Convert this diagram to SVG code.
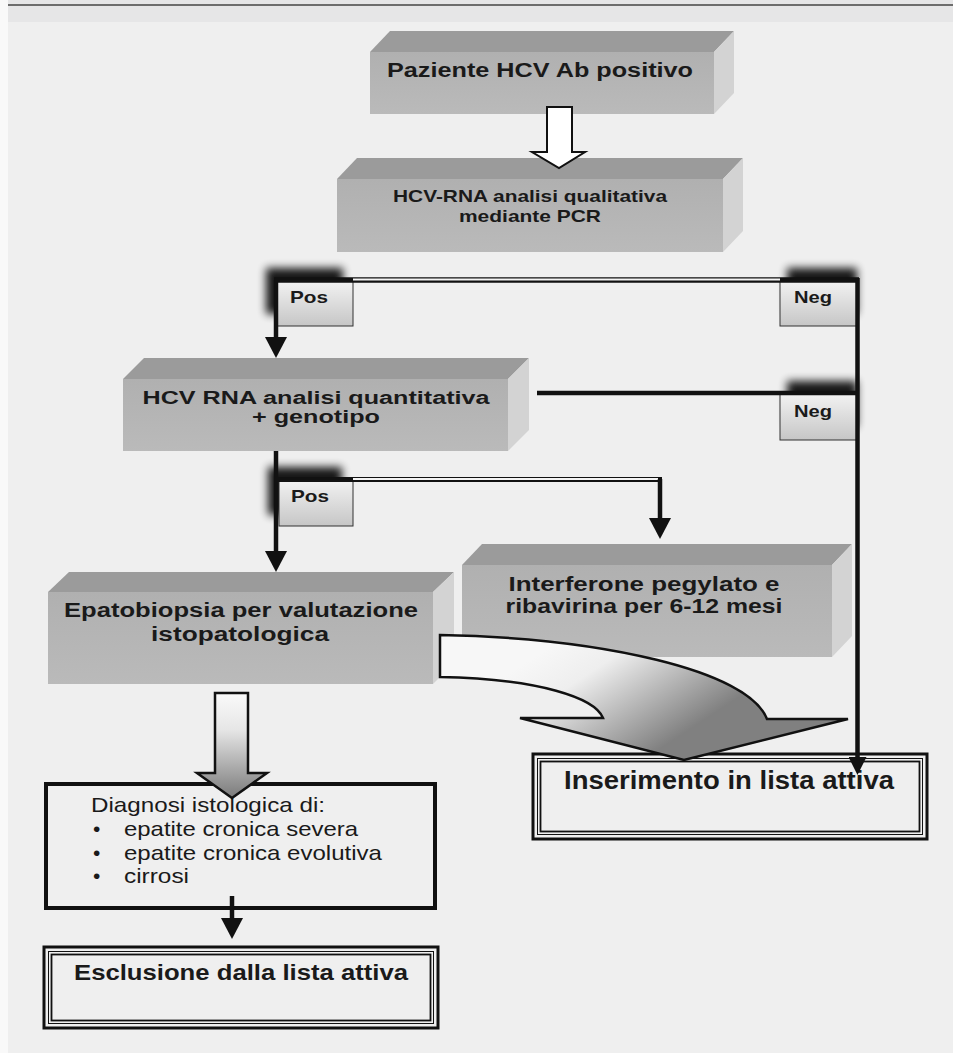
<svg xmlns="http://www.w3.org/2000/svg" width="953" height="1053" viewBox="0 0 953 1053">
<defs>
<style>
.t{font-family:"Liberation Sans",Arial,Helvetica,sans-serif;font-weight:bold;fill:#1a1a1a;text-anchor:middle}
.r{font-family:"Liberation Sans",Arial,Helvetica,sans-serif;fill:#1a1a1a}
.front{fill:url(#gFront)}
.top{fill:#9b9b9b}
.side{fill:#d3d3d3}
.lab{fill:url(#gLab);stroke:#333;stroke-width:1}
.shd{fill:#000;opacity:0.9;filter:url(#blur)}
.ln{stroke:#111;stroke-width:4.5;fill:none}
.k{fill:none;stroke:#111}
</style>
<linearGradient id="gFront" x1="0" y1="0" x2="0" y2="1">
<stop offset="0" stop-color="#b0b0b0"/>
<stop offset="1" stop-color="#bababa"/>
</linearGradient>
<linearGradient id="gLab" x1="0" y1="0" x2="0" y2="1">
<stop offset="0" stop-color="#f3f3f3"/>
<stop offset="1" stop-color="#c6c6c6"/>
</linearGradient>
<linearGradient id="gDown" x1="0" y1="0" x2="0" y2="1">
<stop offset="0" stop-color="#fafafa"/>
<stop offset="0.35" stop-color="#e6e6e6"/>
<stop offset="1" stop-color="#7a7a7a"/>
</linearGradient>
<linearGradient id="gCurve" gradientUnits="userSpaceOnUse" x1="560" y1="640" x2="640" y2="762">
<stop offset="0" stop-color="#f7f7f7"/>
<stop offset="0.3" stop-color="#eeeeee"/>
<stop offset="1" stop-color="#808080"/>
</linearGradient>
<filter id="blur" x="-50%" y="-50%" width="200%" height="200%">
<feGaussianBlur stdDeviation="4"/>
</filter>
<marker id="ah" viewBox="0 0 21 22" refX="0" refY="11" markerWidth="21" markerHeight="22" markerUnits="userSpaceOnUse" orient="auto">
<path d="M0,0 L21,11 L0,22 Z" fill="#111"/>
</marker>
<marker id="ahs" viewBox="0 0 18 18" refX="0" refY="9" markerWidth="18" markerHeight="18" markerUnits="userSpaceOnUse" orient="auto">
<path d="M0,0 L18,9 L0,18 Z" fill="#111"/>
</marker>
</defs>

<!-- page -->
<rect x="0" y="0" width="953" height="1053" fill="#f9f9f9"/>
<rect x="8" y="0" width="945" height="1053" fill="#efefef"/>
<rect x="8" y="0" width="945" height="22" fill="#e6e6e7"/>
<line x1="8" y1="5" x2="953" y2="5" stroke="#444" stroke-width="1.5"/>

<!-- nodes -->
<g id="n-paziente">
<polygon class="top" points="370,52 390,31 734,31 714,52"/>
<polygon class="side" points="714,52 734,31 734,93 714,114"/>
<rect class="front" x="370" y="52" width="344" height="62"/>
<text class="t" x="540" y="77" font-size="20" textLength="306" lengthAdjust="spacingAndGlyphs">Paziente HCV Ab positivo</text>
</g>

<g id="n-qualitativa">
<polygon class="top" points="337,179 357,158 743,158 723,179"/>
<polygon class="side" points="723,179 743,158 743,231 723,252"/>
<rect class="front" x="337" y="179" width="386" height="73"/>
<text class="t" x="530" y="202" font-size="17" textLength="274" lengthAdjust="spacingAndGlyphs">HCV-RNA analisi qualitativa</text>
<text class="t" x="530" y="222" font-size="17" textLength="142" lengthAdjust="spacingAndGlyphs">mediante PCR</text>
</g>

<g id="n-quantitativa">
<polygon class="top" points="123,379 144,358 529,358 508,379"/>
<polygon class="side" points="508,379 529,358 529,430 508,451"/>
<rect class="front" x="123" y="379" width="385" height="72"/>
<text class="t" x="316" y="404" font-size="18" textLength="347" lengthAdjust="spacingAndGlyphs">HCV RNA analisi quantitativa</text>
<text class="t" x="316" y="423" font-size="18" textLength="128" lengthAdjust="spacingAndGlyphs">+ genotipo</text>
</g>

<g id="n-interferone">
<polygon class="top" points="462,565 482,544 852,544 832,565"/>
<polygon class="side" points="832,565 852,544 852,636 832,657"/>
<rect class="front" x="462" y="565" width="370" height="92"/>
<text class="t" x="644" y="591" font-size="20" textLength="271" lengthAdjust="spacingAndGlyphs">Interferone pegylato e</text>
<text class="t" x="644" y="613" font-size="20" textLength="277" lengthAdjust="spacingAndGlyphs">ribavirina per 6-12 mesi</text>
</g>

<g id="n-epatobiopsia">
<polygon class="top" points="48,592 69,572 454,572 433,592"/>
<polygon class="side" points="433,592 454,572 454,663 433,684"/>
<rect class="front" x="48" y="592" width="385" height="92"/>
<text class="t" x="241" y="617" font-size="20" textLength="354" lengthAdjust="spacingAndGlyphs">Epatobiopsia per valutazione</text>
<text class="t" x="240" y="641" font-size="20" textLength="178" lengthAdjust="spacingAndGlyphs">istopatologica</text>
</g>

<g id="n-diagnosi">
<rect x="46" y="784" width="389" height="124" fill="none" stroke="#111" stroke-width="4"/>
<text class="r" x="91" y="812" font-size="21" textLength="234" lengthAdjust="spacingAndGlyphs">Diagnosi istologica di:</text>
<text class="r" x="93" y="836" font-size="21">•</text>
<text class="r" x="124" y="836" font-size="21" textLength="234" lengthAdjust="spacingAndGlyphs">epatite cronica severa</text>
<text class="r" x="93" y="860" font-size="21">•</text>
<text class="r" x="124" y="860" font-size="21" textLength="258" lengthAdjust="spacingAndGlyphs">epatite cronica evolutiva</text>
<text class="r" x="93" y="883" font-size="21">•</text>
<text class="r" x="124" y="883" font-size="21" textLength="65" lengthAdjust="spacingAndGlyphs">cirrosi</text>
</g>

<g id="n-esclusione">
<rect class="k" x="44" y="947" width="394" height="81" stroke-width="3"/>
<rect class="k" x="48.5" y="951.5" width="385" height="72" stroke-width="1"/>
<rect class="k" x="51.5" y="954.5" width="379" height="66" stroke-width="1.8"/>
<text class="t" x="241" y="980" font-size="22" textLength="334" lengthAdjust="spacingAndGlyphs">Esclusione dalla lista attiva</text>
</g>

<g id="n-inserimento">
<rect class="k" x="533" y="754" width="394" height="85" stroke-width="3"/>
<rect class="k" x="537.5" y="758.5" width="385" height="76" stroke-width="1"/>
<rect class="k" x="540.5" y="761.5" width="379" height="70" stroke-width="1.8"/>
<text class="t" x="729" y="789" font-size="25" textLength="330" lengthAdjust="spacingAndGlyphs">Inserimento in lista attiva</text>
</g>

<!-- branch labels -->
<g id="l-pos1">
<rect class="shd" x="266" y="268" width="77" height="46"/>
<rect class="lab" x="276" y="280" width="77" height="46"/>
<text class="t" x="309" y="303" font-size="17" textLength="38" lengthAdjust="spacingAndGlyphs">Pos</text>
</g>
<g id="l-neg1">
<rect class="shd" x="787" y="268" width="70" height="46"/>
<rect class="lab" x="780" y="280" width="77" height="46"/>
<text class="t" x="813" y="303" font-size="17" textLength="38" lengthAdjust="spacingAndGlyphs">Neg</text>
</g>
<g id="l-neg2">
<rect class="shd" x="787" y="381" width="70" height="46"/>
<rect class="lab" x="780" y="393" width="77" height="47"/>
<text class="t" x="813" y="417" font-size="17" textLength="38" lengthAdjust="spacingAndGlyphs">Neg</text>
</g>
<g id="l-pos2">
<rect class="shd" x="268" y="467" width="74" height="48"/>
<rect class="lab" x="279" y="479" width="74" height="47"/>
<text class="t" x="310" y="502" font-size="17" textLength="38" lengthAdjust="spacingAndGlyphs">Pos</text>
</g>

<!-- connectors -->
<g id="connectors">
<path d="M547,107 L572,107 L572,152 L585,152 L559,168 L532,152 L547,152 Z" fill="#fff" stroke="#111" stroke-width="2"/>
<line x1="274" y1="280" x2="859" y2="280" stroke="#111" stroke-width="5.5"/>
<line x1="353" y1="279.5" x2="780" y2="279.5" stroke="#f4f4f4" stroke-width="2"/>
<line class="ln" x1="276" y1="280" x2="276" y2="337" marker-end="url(#ah)"/>
<line class="ln" x1="857.5" y1="278" x2="857.5" y2="757" marker-end="url(#ahs)"/>
<line x1="537" y1="393" x2="859" y2="393" stroke="#111" stroke-width="4.5"/>
<line class="ln" x1="276" y1="451" x2="276" y2="551" marker-end="url(#ah)"/>
<line x1="276" y1="479.5" x2="662" y2="479.5" stroke="#111" stroke-width="5"/>
<line x1="353" y1="479" x2="658" y2="479" stroke="#f4f4f4" stroke-width="1.8"/>
<line class="ln" x1="660" y1="479" x2="660" y2="518" marker-end="url(#ah)"/>
<path d="M440,635 C600,638 748,670 767,719 L848,719 L684,760 L520,718 L603,718 C595,698 540,679 440,677 Z" fill="url(#gCurve)" stroke="#111" stroke-width="2.5" stroke-linejoin="miter"/>
<path d="M215,693 L248,693 L248,773 L267,773 L232,798 L197,773 L215,773 Z" fill="url(#gDown)" stroke="#111" stroke-width="2.5"/>
<line class="ln" x1="232" y1="896" x2="232" y2="918" marker-end="url(#ah)"/>
</g>
</svg>
